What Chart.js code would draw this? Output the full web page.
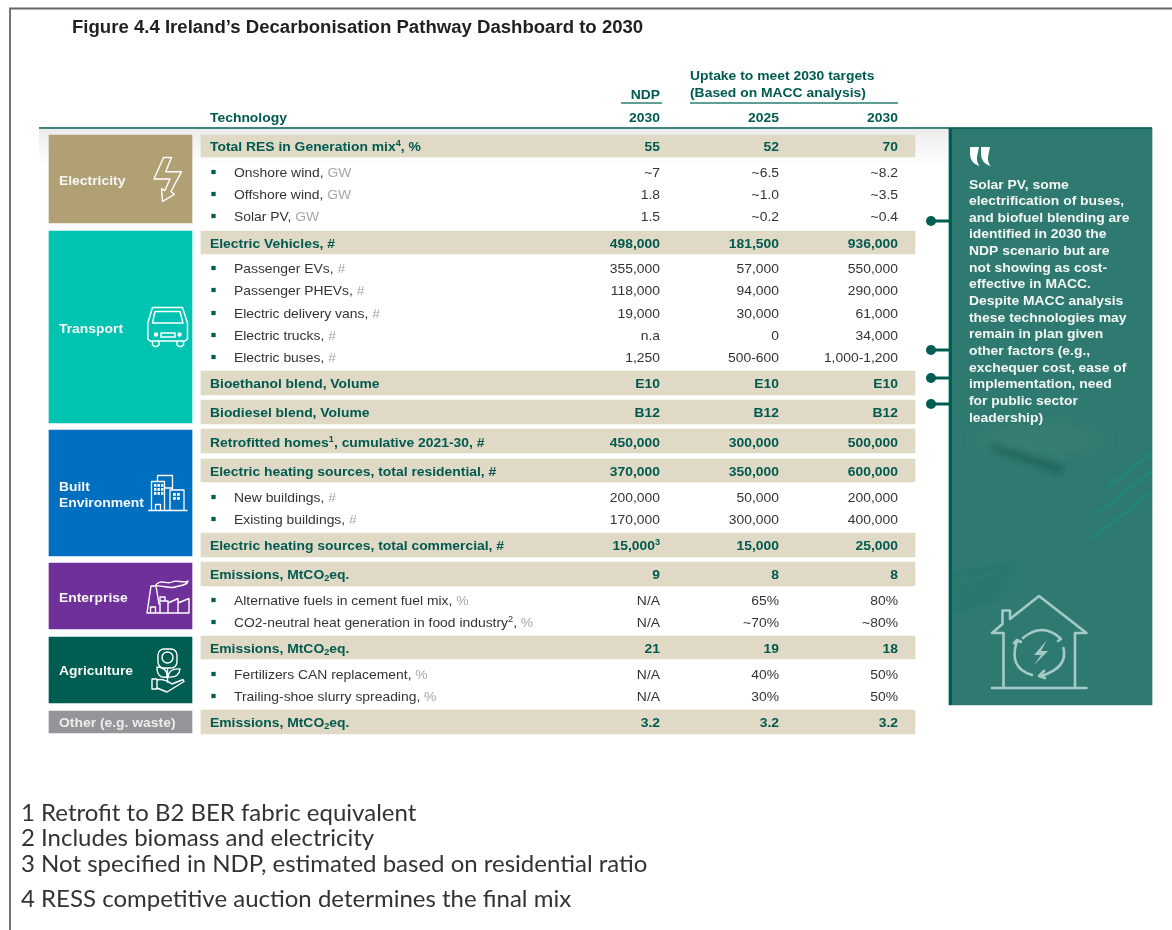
<!DOCTYPE html>
<html><head><meta charset="utf-8">
<script src="https://cdn.jsdelivr.net/npm/chart.js@4"></script>
<style>html,body{margin:0;padding:0;background:#fff}canvas{display:block}</style>
</head><body>
<canvas id="c" width="1172" height="930"></canvas>
<script>
// ---------- data ----------
const figureTitle = "Figure 4.4 Ireland\u2019s Decarbonisation Pathway Dashboard to 2030";
const columnHead = ["Technology", "2030", "2025", "2030"];
const groupHeadNdp = ["NDP"];
const groupHeadMacc = ["Uptake to meet 2030 targets", "(Based on MACC analysis)"];
const sectorNames = [["Electricity"], ["Transport"], ["Built", "Environment"], ["Enterprise"], ["Agriculture"], ["Other (e.g. waste)"]];
const rowLabels = ["Total RES in Generation mix^4^, %","Onshore wind, ","Offshore wind, ","Solar PV, ",
 "Electric Vehicles, #","Passenger EVs, ","Passenger PHEVs, ","Electric delivery vans, ","Electric trucks, ","Electric buses, ",
 "Bioethanol blend, Volume","Biodiesel blend, Volume","Retrofitted homes^1^, cumulative 2021-30, #",
 "Electric heating sources, total residential, #","New buildings, ","Existing buildings, ",
 "Electric heating sources, total commercial, #","Emissions, MtCO_2_eq.","Alternative fuels in cement fuel mix, ",
 "CO2-neutral heat generation in food industry^2^, ","Emissions, MtCO_2_eq.","Fertilizers CAN replacement, ",
 "Trailing-shoe slurry spreading, ","Emissions, MtCO_2_eq."];
const rowUnits = ["","GW","GW","GW","","#","#","#","#","#","","","","","#","#","","","%","%","","%","%",""];
const ndp2030 = ["55","~7","1.8","1.5","498,000","355,000","118,000","19,000","n.a","1,250","E10","B12","450,000","370,000","200,000","170,000","15,000^3^","9","N/A","N/A","21","N/A","N/A","3.2"];
const uptake2025 = ["52","~6.5","~1.0","~0.2","181,500","57,000","94,000","30,000","0","500-600","E10","B12","300,000","350,000","50,000","300,000","15,000","8","65%","~70%","19","40%","30%","3.2"];
const uptake2030 = ["70","~8.2","~3.5","~0.4","936,000","550,000","290,000","61,000","34,000","1,000-1,200","E10","B12","500,000","600,000","200,000","400,000","25,000","8","80%","~80%","18","50%","50%","3.2"];
const calloutLines = ["Solar PV, some","electrification of buses,","and biofuel blending are","identified in 2030 the","NDP scenario but are","not showing as cost-","effective in MACC.","Despite MACC analysis","these technologies may","remain in plan given","other factors (e.g.,","exchequer cost, ease of","implementation, need","for public sector","leadership)"];
const footnotes = ["1 Retrofit to B2 BER fabric equivalent","2 Includes biomass and electricity","3 Not specified in NDP, estimated based on residential ratio","4 RESS competitive auction determines the final mix"];

// ---------- layout and style ----------
const rowY = [146,172,194,216,243,268,290,313,335,357,383,412,442,471,497,519,545,574,600,622,648,674,696,722];
const bandRows = [0,4,10,11,12,13,16,17,20,23];
const bandTop = [135,231,371,400,429,459,533,562,636,710];
const bandBot = [157,254,395,424,453,482,557,586,659,734];
const sectorTop = [135,231,430,563,637,711];
const sectorBot = [223,423,556,629,703,733];
const sectorColor = ["#B0A074","#00C4B1","#006FC0","#70309A","#005D52","#939598"];
const sectorTextY = [[180],[328],[486,502],[597],[670],[722]];
const connectorY = [221,350,378,404];
const colX = [660,779,898];
const TEAL="#005D52", DARK="#005A50", BODY="#333333", GREY="#A6A6A6", BAND="#DFD9C5";
const FF='"Liberation Sans",Arial,sans-serif';
const SZ=13.2, HS=1.053; // the source figure is stretched sideways

const subRows = rowLabels.map((_,i)=>i).filter(i=>!bandRows.includes(i));

function rich(ctx,text,x,y,align,size,weight,color,tail,tailColor){
  const parts=[];const re=/\^([^^]*)\^|_([^_]*)_|([^^_]+)/g;let m;
  while((m=re.exec(text))){ if(m[1]!==undefined)parts.push([m[1],'sup']); else if(m[2]!==undefined)parts.push([m[2],'sub']); else parts.push([m[3],'n']); }
  const f=k=>`${weight} ${k==='n'?size:size*0.66}px ${FF}`;
  let w=0;parts.forEach(p=>{ctx.font=f(p[1]);w+=ctx.measureText(p[0]).width*HS;});
  let px=align==='right'?x-w:x;
  ctx.save();ctx.translate(px,y+4.5);ctx.scale(HS,1);
  ctx.textAlign='left';ctx.textBaseline='alphabetic';
  let cx=0;
  parts.forEach(p=>{ctx.font=f(p[1]);ctx.fillStyle=color;
    const dy=p[1]==='sup'?-5:p[1]==='sub'?2.5:0;
    ctx.fillText(p[0],cx,dy);cx+=ctx.measureText(p[0]).width;});
  if(tail){ctx.font=f('n');ctx.fillStyle=tailColor;ctx.fillText(tail,cx,0);}
  ctx.restore();
}
function stroke(ctx,color,lw,fn){ctx.save();ctx.strokeStyle=color;ctx.lineWidth=lw;ctx.lineJoin='round';ctx.lineCap='round';ctx.beginPath();fn(ctx);ctx.stroke();ctx.restore();}
function poly(c,pts,close){pts.forEach((p,i)=>i?c.lineTo(p[0],p[1]):c.moveTo(p[0],p[1]));if(close)c.closePath();}

function icons(ctx,sx,sy){
  const W='#fff';
  // bolt
  stroke(ctx,W,1.4,c=>poly(c,[[sx(163.5),sy(157.5)],[sx(171.5),sy(157.5)],[sx(165.7),sy(171.7)],[sx(181.5),sy(171.7)],[sx(171),sy(191.5)],[sx(174.3),sy(194.3)],[sx(162.5),sy(201.5)],[sx(161.5),sy(188.7)],[sx(164.7),sy(190.7)],[sx(170),sy(179)],[sx(154),sy(179)]],true));
  // car
  stroke(ctx,W,1.5,c=>{
    poly(c,[[sx(152.5),sy(307.5)],[sx(182.5),sy(307.5)],[sx(187.5),sy(323)],[sx(187.5),sy(339)],[sx(185),sy(341)],[sx(150),sy(341)],[sx(147.8),sy(339)],[sx(147.8),sy(323)]],true);
    poly(c,[[sx(155),sy(311.5)],[sx(180),sy(311.5)],[sx(183),sy(323)],[sx(152.5),sy(323)]],true);
    c.rect(sx(161),sy(333),14,4);
    poly(c,[[sx(152.5),sy(341)],[sx(152.5),sy(345)],[sx(154.5),sy(346.5)],[sx(157),sy(346.5)],[sx(159),sy(345)],[sx(159),sy(341)]]);
    poly(c,[[sx(177),sy(341)],[sx(177),sy(345)],[sx(179),sy(346.5)],[sx(181.5),sy(346.5)],[sx(183.5),sy(345)],[sx(183.5),sy(341)]]);
  });
  ctx.fillStyle=W;
  [[156,334.5],[179.5,334.5]].forEach(p=>{ctx.beginPath();ctx.arc(sx(p[0]),sy(p[1]),2.2,0,7);ctx.fill();});
  // buildings
  stroke(ctx,W,1.3,c=>{
    poly(c,[[sx(148.5),sy(510.5)],[sx(187),sy(510.5)]]);
    c.rect(sx(151.5),sy(481.5),13,29);
    poly(c,[[sx(157.5),sy(481.5)],[sx(157.5),sy(475.5)],[sx(172.5),sy(475.5)],[sx(172.5),sy(490)]]);
    poly(c,[[sx(164.5),sy(488)],[sx(172.5),sy(488)]]);
    c.rect(sx(170),sy(490),14,20.5);
    poly(c,[[sx(155.5),sy(510.5)],[sx(155.5),sy(504.5)],[sx(160.5),sy(504.5)],[sx(160.5),sy(510.5)]]);
  });
  ctx.fillStyle=W;
  for(let i=0;i<3;i++)for(let j=0;j<3;j++)ctx.fillRect(sx(154+j*3.5),sy(484+i*4),2.4,2.8);
  for(let i=0;i<2;i++)for(let j=0;j<2;j++)ctx.fillRect(sx(173+j*4),sy(493+i*4),2.8,2.8);
  // factory
  stroke(ctx,W,1.4,c=>{
    poly(c,[[sx(147),sy(613)],[sx(189),sy(613)],[sx(189),sy(598.5)],[sx(178),sy(603)],[sx(178),sy(598.5)],[sx(168),sy(603)],[sx(168),sy(601)],[sx(160),sy(601)]]);
    poly(c,[[sx(147),sy(613)],[sx(151),sy(586)],[sx(156),sy(586)],[sx(159),sy(604)]]);
    poly(c,[[sx(160),sy(601)],[sx(160),sy(597)],[sx(165),sy(597)],[sx(165),sy(601)]]);
    poly(c,[[sx(160),sy(613)],[sx(160),sy(603)]]);
    poly(c,[[sx(168),sy(603)],[sx(168),sy(613)]]);poly(c,[[sx(178),sy(603)],[sx(178),sy(613)]]);
    c.rect(sx(150.5),sy(607),5,6);
    c.moveTo(sx(155),sy(586));c.bezierCurveTo(sx(160),sy(578),sx(167),sy(585),sx(172),sy(582));c.bezierCurveTo(sx(177),sy(579),sx(183),sy(584),sx(188),sy(581));
    c.bezierCurveTo(sx(187),sy(586),sx(180),sy(585),sx(175),sy(587));c.bezierCurveTo(sx(170),sy(589),sx(162),sy(585),sx(155),sy(586));
  });
  // flower and hand
  stroke(ctx,W,1.4,c=>{
    c.roundRect(sx(158),sy(649),19,19,6);
    c.moveTo(sx(173),sy(657.5));c.arc(sx(167.5),sy(657.5),5.5,0,7);
    poly(c,[[sx(167.5),sy(668)],[sx(167.5),sy(682)]]);
    c.moveTo(sx(167),sy(677));c.quadraticCurveTo(sx(157),sy(679),sx(157),sy(667));c.quadraticCurveTo(sx(168),sy(668),sx(167),sy(677));
    c.moveTo(sx(168),sy(677));c.quadraticCurveTo(sx(179),sy(678),sx(180),sy(669));c.quadraticCurveTo(sx(169),sy(668),sx(168),sy(677));
    poly(c,[[sx(152),sy(679)],[sx(157),sy(679)],[sx(157),sy(689)],[sx(152),sy(689)]],true);
    c.moveTo(sx(157),sy(680));c.quadraticCurveTo(sx(163),sy(678),sx(172),sy(684));c.lineTo(sx(183),sy(679.5));c.lineTo(sx(184),sy(681.5));c.lineTo(sx(167),sy(692));c.lineTo(sx(157),sy(688));
  });
}
function panelArt(ctx,sx,sy){
  // soft photographic texture
  ctx.save();
  ctx.beginPath();ctx.rect(sx(952),sy(129),200,576);ctx.clip();
  ctx.filter='blur(3px)';
  ctx.strokeStyle='rgba(20,90,80,.6)';ctx.lineWidth=9;
  ctx.beginPath();ctx.moveTo(sx(992),sy(447));ctx.lineTo(sx(1062),sy(470));ctx.stroke();
  ctx.filter='blur(10px)';
  ctx.fillStyle='rgba(120,150,130,.18)';ctx.beginPath();ctx.ellipse(sx(1040),sy(440),60,14,0,0,7);ctx.fill();
  ctx.filter='blur(2px)';
  ctx.strokeStyle='rgba(10,110,105,.28)';ctx.lineWidth=4;
  [[953,575,1012,566],[953,590,1010,575],[953,600,1010,585],[953,610,1000,597]].forEach(l=>{ctx.beginPath();ctx.moveTo(sx(l[0]),sy(l[1]));ctx.lineTo(sx(l[2]),sy(l[3]));ctx.stroke();});
  ctx.filter='none';
  ctx.strokeStyle='rgba(30,140,125,.55)';ctx.lineWidth=3;
  [[1108,487,1152,453],[1097,514,1152,471],[1090,540,1152,492]].forEach(l=>{ctx.beginPath();ctx.moveTo(sx(l[0]),sy(l[1]));ctx.lineTo(sx(l[2]),sy(l[3]));ctx.stroke();});
  ctx.restore();
  // quote mark
  ctx.fillStyle='#fff';
  [0,11].forEach(o=>{ctx.beginPath();ctx.moveTo(sx(970+o),sy(147));ctx.lineTo(sx(979+o),sy(147));ctx.lineTo(sx(977+o),sy(157));ctx.quadraticCurveTo(sx(976.5+o),sy(163),sx(980+o),sy(166.5));ctx.quadraticCurveTo(sx(970+o),sy(163),sx(970+o),sy(154));ctx.closePath();ctx.fill();});
  // house icon
  const H='rgba(205,228,224,.75)';
  stroke(ctx,H,2.6,c=>{
    poly(c,[[sx(1003.5),sy(687)],[sx(1003.5),sy(633)],[sx(992),sy(633)],[sx(1002.5),sy(624)],[sx(1002.5),sy(610.5)],[sx(1010),sy(610.5)],[sx(1010),sy(619)],[sx(1039),sy(596)],[sx(1086.5),sy(633)],[sx(1075),sy(633)],[sx(1075),sy(687)]]);
    poly(c,[[sx(992),sy(688)],[sx(1086.5),sy(688)]]);
    c.moveTo(sx(1023),sy(638));c.quadraticCurveTo(sx(1042),sy(622),sx(1060),sy(638));
    c.moveTo(sx(1063.5),sy(648));c.quadraticCurveTo(sx(1068),sy(668),sx(1041),sy(676));
    c.moveTo(sx(1032),sy(675));c.quadraticCurveTo(sx(1008),sy(668),sx(1017),sy(641));
    poly(c,[[sx(1055),sy(634)],[sx(1061),sy(639)],[sx(1058),sy(641)]]);
    poly(c,[[sx(1044),sy(671)],[sx(1039),sy(676)],[sx(1045),sy(678)]]);
    poly(c,[[sx(1014),sy(643)],[sx(1017),sy(640)],[sx(1021),sy(642)]]);
  });
  ctx.fillStyle=H;ctx.beginPath();
  poly(ctx,[[sx(1047),sy(640)],[sx(1034),sy(655)],[sx(1041),sy(655)],[sx(1034),sy(665)],[sx(1048),sy(651)],[sx(1041),sy(651)]],true);ctx.fill();
}

const page = {
  id:'page',
  beforeDatasetsDraw(chart){
    const {ctx,scales:{x,y}}=chart;const sx=v=>x.getPixelForValue(v),sy=v=>y.getPixelForValue(v);
    const g=ctx.createLinearGradient(0,sy(129),0,sy(165));g.addColorStop(0,'#ececec');g.addColorStop(1,'#ffffff');
    ctx.fillStyle=g;ctx.fillRect(sx(39),sy(129),sx(949)-sx(39),sy(165)-sy(129));
  },
  afterDatasetsDraw(chart){
    const {ctx,scales:{x,y}}=chart;const sx=v=>x.getPixelForValue(v),sy=v=>y.getPixelForValue(v);
    panelArt(ctx,sx,sy);
    icons(ctx,sx,sy);
    rich(ctx,figureTitle,sx(72),sy(28),'left',17.65,'bold','#231F20');
    rich(ctx,columnHead[0],sx(210),sy(117),'left',SZ,'bold',DARK);
    columnHead.slice(1).forEach((t,i)=>rich(ctx,t,sx(colX[i]),sy(117),'right',SZ,'bold',DARK));
    rich(ctx,groupHeadNdp[0],sx(660),sy(94),'right',SZ,'bold',DARK);
    groupHeadMacc.forEach((t,i)=>rich(ctx,t,sx(690),sy(75+i*17),'left',SZ,'bold',DARK));
    sectorNames.forEach((lines,i)=>lines.forEach((t,j)=>rich(ctx,t,sx(59),sy(sectorTextY[i][j]),'left',SZ,'bold',i===5?'#EDEDED':'#F7F7F7')));
    rowLabels.forEach((t,i)=>{
      const band=bandRows.includes(i);
      if(band)rich(ctx,t,sx(210),sy(rowY[i]),'left',SZ,'bold',DARK);
      else rich(ctx,t,sx(234),sy(rowY[i]),'left',SZ,'normal',BODY,rowUnits[i],GREY);
      [ndp2030,uptake2025,uptake2030].forEach((col,k)=>rich(ctx,col[i],sx(colX[k]),sy(rowY[i]),'right',SZ,band?'bold':'normal',band?DARK:BODY));
    });
    calloutLines.forEach((t,i)=>rich(ctx,t,sx(969),sy(184+i*16.65),'left',SZ,'bold','#F4F7F6'));
    const fy=[821,846,872,907];
    ctx.font='24px Lato,sans-serif';ctx.fillStyle='#333';ctx.textAlign='left';ctx.textBaseline='alphabetic';
    footnotes.forEach((t,i)=>ctx.fillText(t,sx(21),sy(fy[i])));
  }
};

const lineSet=(pts,color,w,order,extra)=>Object.assign({type:'scatter',showLine:true,data:pts,borderColor:color,backgroundColor:color,borderWidth:w,pointRadius:0,clip:false,order:order||0},extra||{});

new Chart(document.getElementById('c'),{
  type:'bar',
  data:{datasets:[
    ...connectorY.map(cy=>lineSet([{x:931,y:cy},{x:950,y:cy}],TEAL,3,0,{pointRadius:[5,0],pointBackgroundColor:TEAL,pointBorderWidth:0})),
    {type:'scatter',data:subRows.map(i=>({x:213.5,y:rowY[i]})),pointStyle:'rect',pointRadius:3,backgroundColor:TEAL,borderWidth:0,order:0},
    lineSet([{x:39,y:128},{x:1152,y:128}],TEAL,1.6,1),
    lineSet([{x:621,y:103},{x:662,y:103}],'#5E9E95',2,1),
    lineSet([{x:690,y:103},{x:898,y:103}],'#5E9E95',2,1),
    lineSet([{x:10,y:930},{x:10,y:8.5},{x:1172,y:8.5}],'#666666',1.8,1),
    lineSet([{x:950.5,y:128},{x:950.5,y:705}],TEAL,3.2,1),
    {label:'bands',data:bandRows.map((_,i)=>({x:558,y:[bandTop[i],bandBot[i]]})),backgroundColor:BAND,barThickness:714,grouped:false,order:3},
    {label:'sectors',data:sectorTop.map((t,i)=>({x:120.5,y:[t,sectorBot[i]]})),backgroundColor:sectorColor,barThickness:143,grouped:false,order:3},
    {label:'callout',data:[{x:1050.5,y:[128,705]}],backgroundColor:'#2E7A70',barThickness:203,grouped:false,order:4}
  ]},
  options:{
    responsive:false,animation:false,maintainAspectRatio:false,
    layout:{padding:0,autoPadding:false},
    plugins:{legend:{display:false},tooltip:{enabled:false},title:{display:false}},
    scales:{
      x:{type:'linear',min:0,max:1172,display:false,offset:false},
      y:{type:'linear',min:0,max:930,reverse:true,display:false}
    }
  },
  plugins:[page]
});
</script>
</body></html>
